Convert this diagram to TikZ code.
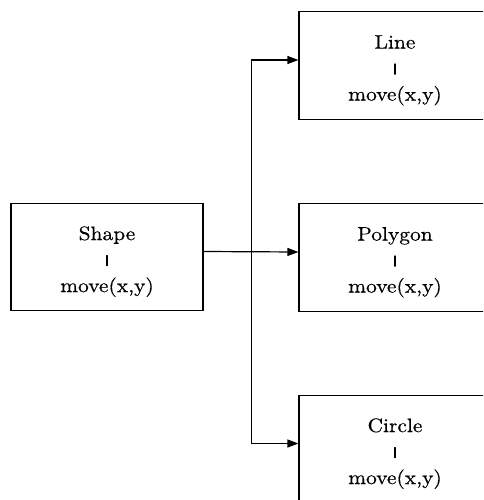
\documentclass[tikz,border=0pt]{standalone}
\usepackage{fontspec}
\setmainfont{lmroman10-regular.otf}[FakeStretch=1.1,FakeBold=0.5]
\usetikzlibrary{arrows.meta}
\usepackage{graphicx}
% short vertical separator between class name and method
\newcommand{\sepbar}{{\fontsize{11}{11}\selectfont\raisebox{2.75pt}{\scalebox{3.5}[1]{|}}}}
% extra height so the text sits a little below the box centre
\newcommand{\topstrut}{\rule{0pt}{23pt}}
\tikzset{
  cls/.style={draw, line width=1.2pt, minimum width=192pt, minimum height=107.5pt,
    inner sep=0pt, align=center, font=\fontsize{19.5}{26}\selectfont},
  conn/.style={line width=1.2pt},
  arr/.style={conn, -{Triangle[length=11pt,width=8pt]}}
}
\begin{document}
\begin{tikzpicture}[x=1pt,y=-1pt]
  \useasboundingbox (0,0) rectangle (483,500);
  \clip (0,0) rectangle (483,500);

  \node[cls] (Shape)   at (107,257)   {\topstrut Shape\\\sepbar\\move(x,y)};
  \node[cls] (Line)    at (395,65.5)  {\topstrut Line\\\sepbar\\move(x,y)};
  \node[cls] (Polygon) at (395,257.5) {\topstrut Polygon\\\sepbar\\move(x,y)};
  \node[cls] (Circle)  at (395,449)   {\topstrut Circle\\\sepbar\\move(x,y)};

  % branching point of the connectors
  \coordinate (j) at (251.7,252);

  \draw[arr] ([yshift=5.5pt]Shape.east) -- ([yshift=5.5pt]Polygon.west);
  \draw[arr] (j) |- ([yshift=5.5pt]Line.west);
  \draw[arr] (j) |- ([yshift=5.5pt]Circle.west);
\end{tikzpicture}
\end{document}
